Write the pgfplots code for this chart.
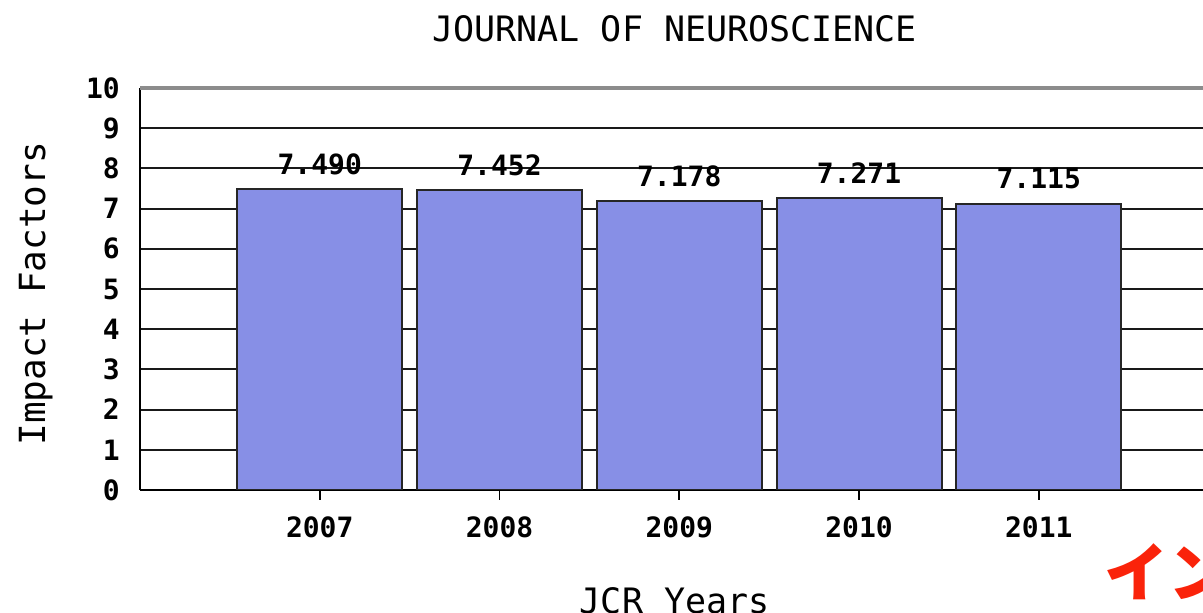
\documentclass[border=0pt]{standalone}
\usepackage{pgfplots}
\pgfplotsset{compat=1.18}
\usepackage{fontspec}
\setmainfont{DejaVu Sans Mono}
\newfontfamily\jp{Noto Sans CJK JP}
\definecolor{barblue}{RGB}{135,143,230}
\definecolor{jred}{RGB}{250,35,10}
\begin{document}
\begin{tikzpicture}[x=1pt,y=1pt]
\useasboundingbox[fill=white] (0,0) rectangle (1203,613);
\begin{axis}[
  at={(140pt,123pt)}, anchor=south west,
  scale only axis, width=1063pt, height=402pt,
  xmin=2006, xmax=2011.914, ymin=0, ymax=10,
  axis lines=left, axis line style={-, black, line width=2pt},
  xtick={2007,2008,2009,2010,2011},
  xticklabels={2007,2008,2009,2010,2011},
  ytick={0,1,2,3,4,5,6,7,8,9},
  yticklabels={0,1,2,3,4,5,6,7,8,9},
  extra y ticks={10}, extra y tick labels={10},
  extra y tick style={major grid style={draw=black!45, line width=3.5pt}},
  ymajorgrids, major grid style={black!90, line width=2pt},
  tick align=outside, major tick length=10pt,
  xtick style={black, line width=1.6pt},
  ytick style={draw=none},
  tick label style={font=\fontsize{28}{28}\selectfont\bfseries, inner sep=0pt},
  xticklabel style={anchor=north, yshift=-17pt},
  yticklabel style={anchor=east, xshift=-10pt},
  title={JOURNAL OF NEUROSCIENCE},
  title style={at={(0.503,1.133)}, anchor=center, font=\fontsize{35}{35}\selectfont, inner sep=0pt},
  xlabel={JCR Years},
  xlabel style={at={(0.503,-0.275)}, anchor=center, font=\fontsize{35}{35}\selectfont, inner sep=0pt},
  ylabel={Impact Factors},
  ylabel style={at={(-0.098,0.488)}, anchor=center, rotate=0, font=\fontsize{36}{36}\selectfont, inner sep=0pt},
  every node near coord/.append style={font=\fontsize{28}{28}\selectfont\bfseries, anchor=center, yshift=25pt, inner sep=0pt},
]
\addplot[ybar, bar width=165pt, fill=barblue, draw=black!85, line width=2pt,
  nodes near coords, point meta=explicit symbolic]
  table[meta=lab] {
x    y      lab
2007 7.490  7.490
2008 7.452  7.452
2009 7.178  7.178
2010 7.271  7.271
2011 7.115  7.115
};
\end{axis}
\node[anchor=base west, inner sep=0pt, text=jred, font=\jp\bfseries\fontsize{64}{64}\selectfont] at (1104,16) {イン};
\end{tikzpicture}
\end{document}
